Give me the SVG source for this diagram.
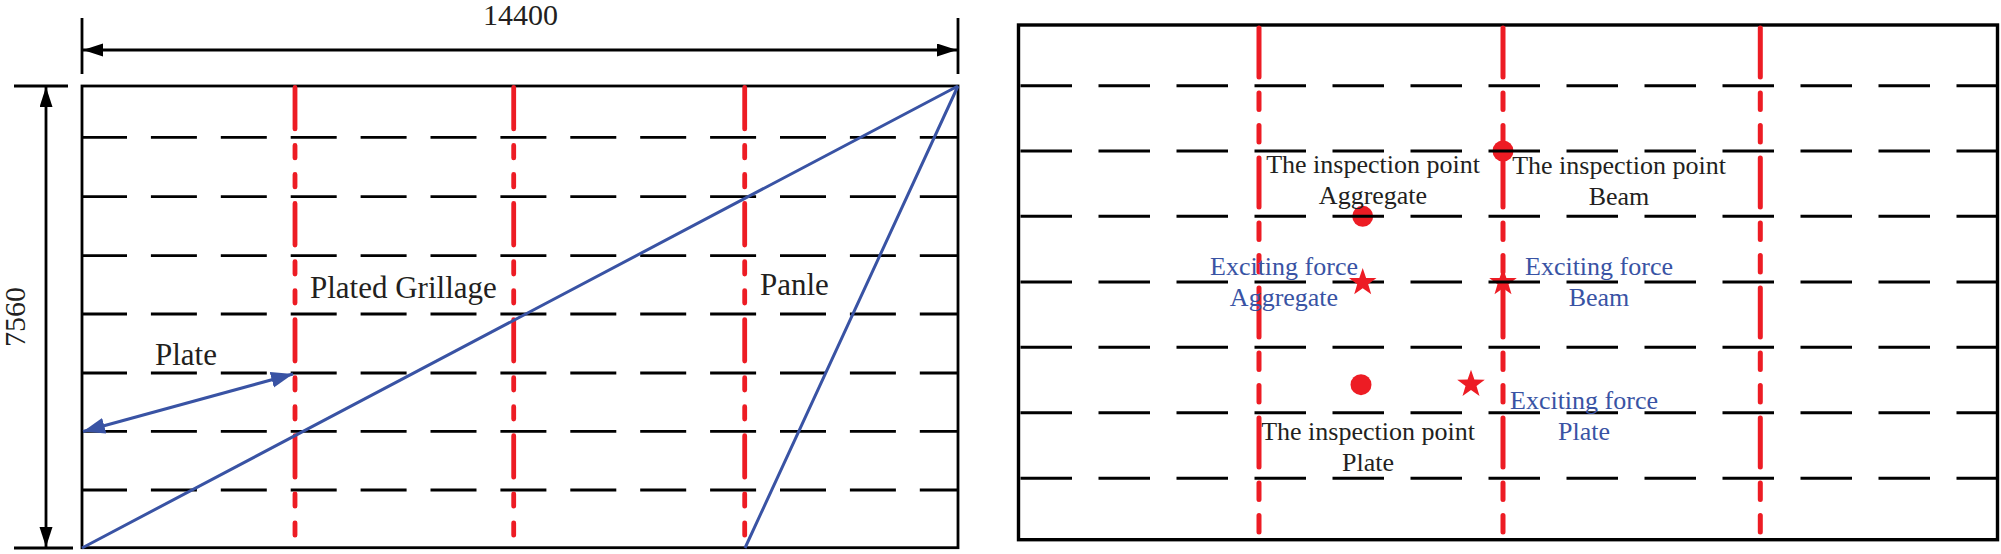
<svg xmlns="http://www.w3.org/2000/svg" width="2001" height="554" viewBox="0 0 2001 554">
<style>
text{font-family:"Liberation Serif","Times New Roman",serif;fill:#231f20}
.n{font-size:30px}
.l{font-size:31px}
.r{font-size:26px}
.m{text-anchor:middle}
.b{fill:#3953a4}
.k{stroke:#000;stroke-width:2.8;fill:none}
.kk{stroke:#000;stroke-width:3.4;fill:none}
.hl{stroke:#000;stroke-width:2.8;stroke-dasharray:46 23.9;fill:none}
.hr{stroke:#000;stroke-width:3;stroke-dasharray:51.5 26.5;fill:none}
.vl{stroke:#ed1c24;stroke-width:4.8;stroke-linecap:round;stroke-dasharray:41.5 16.6 12.4 16.6 12.4 16.6;fill:none}
.vr{stroke:#ed1c24;stroke-width:5;stroke-linecap:round;stroke-dasharray:49 16 16.5 16 16.5 16;fill:none}
.bl{stroke:#3953a4;stroke-width:3;fill:none}
.rd{fill:#ed1c24}
</style>
<defs>
<marker id="ak" markerUnits="userSpaceOnUse" markerWidth="22" markerHeight="14" refX="20" refY="6.5" orient="auto-start-reverse"><path d="M0 0L20 6.5L0 13Z" fill="#000"/></marker>
<marker id="ab" markerUnits="userSpaceOnUse" markerWidth="24" markerHeight="18" refX="22" refY="8" orient="auto-start-reverse"><path d="M0 0L22 8L0 16Z" fill="#3953a4"/></marker>
<polygon id="star" points="0,-14.5 3.4,-4.6 13.8,-4.5 5.5,1.8 8.5,11.7 0,5.7 -8.5,11.7 -5.5,1.8 -13.8,-4.5 -3.4,-4.6"/>
</defs>
<g id="insp-aggregate">
<circle class="rd" cx="1362.7" cy="216.3" r="10.5"/>
<text class="r m" x="1373" y="173.3">The inspection point</text>
<text class="r m" x="1373" y="204">Aggregate</text>
</g>
<g id="insp-beam">
<circle class="rd" cx="1503" cy="151" r="10.5"/>
<text class="r m" x="1619" y="174">The inspection point</text>
<text class="r m" x="1619" y="205">Beam</text>
</g>
<g id="insp-plate">
<circle class="rd" cx="1361" cy="384.7" r="10.5"/>
<text class="r m" x="1368" y="440">The inspection point</text>
<text class="r m" x="1368" y="471">Plate</text>
</g>
<g id="force-beam">
<use href="#star" class="rd" x="1503" y="282.5"/>
<text class="r m b" x="1599" y="275">Exciting force</text>
<text class="r m b" x="1599" y="306">Beam</text>
</g>
<g id="connectors">
<g id="left-grid">
<rect class="k" x="82" y="86" width="876" height="461.7"/>
<path class="hl" d="M81 137.3H958M81 196.7H958M81 255.7H958M81 314H958M81 373H958M81 431.3H958M81 490H958"/>
<path class="vl" d="M295 87.4V538M513.7 87.4V538M744.7 87.4V538"/>
</g>
<g id="dimensions">
<path class="k" d="M82 18V74M958 18V74M14 86H68M14 548H73"/>
<path class="k" d="M83 50H957" marker-start="url(#ak)" marker-end="url(#ak)"/>
<path class="k" d="M46 87V547" marker-start="url(#ak)" marker-end="url(#ak)"/>
</g>
<g id="blue-lines">
<path class="bl" d="M82 548L958 86M745 548L958 86"/>
<path class="bl" d="M83 431.5L293 374" marker-start="url(#ab)" marker-end="url(#ab)"/>
</g>
<g id="right-grid">
<rect class="kk" x="1018.5" y="25" width="979" height="514.7"/>
<path class="hr" d="M1020.5 85.7H1998M1020.5 151H1998M1020.5 216.3H1998M1020.5 282H1998M1020.5 347.3H1998M1020.5 412.7H1998M1020.5 478.3H1998"/>
<path class="vr" d="M1259 28V532M1503 28V532M1760.3 28V532"/>
</g>
</g>
<g id="dim-width"><text class="n" x="483" y="25">14400</text></g>
<g id="dim-height"><text class="n" transform="translate(25 347) rotate(-90)">7560</text></g>
<g id="label-grillage"><text class="l" x="310" y="297.7">Plated Grillage</text></g>
<g id="label-plate"><text class="l" x="155" y="365.3">Plate</text></g>
<g id="label-panel"><text class="l" x="760" y="295.3">Panle</text></g>
<g id="force-aggregate">
<use href="#star" class="rd" x="1362.7" y="282.5"/>
<text class="r m b" x="1284" y="275">Exciting force</text>
<text class="r m b" x="1284" y="306">Aggregate</text>
</g>
<g id="force-plate">
<use href="#star" class="rd" x="1471" y="384.2"/>
<text class="r m b" x="1584" y="409">Exciting force</text>
<text class="r m b" x="1584" y="440">Plate</text>
</g>
</svg>
